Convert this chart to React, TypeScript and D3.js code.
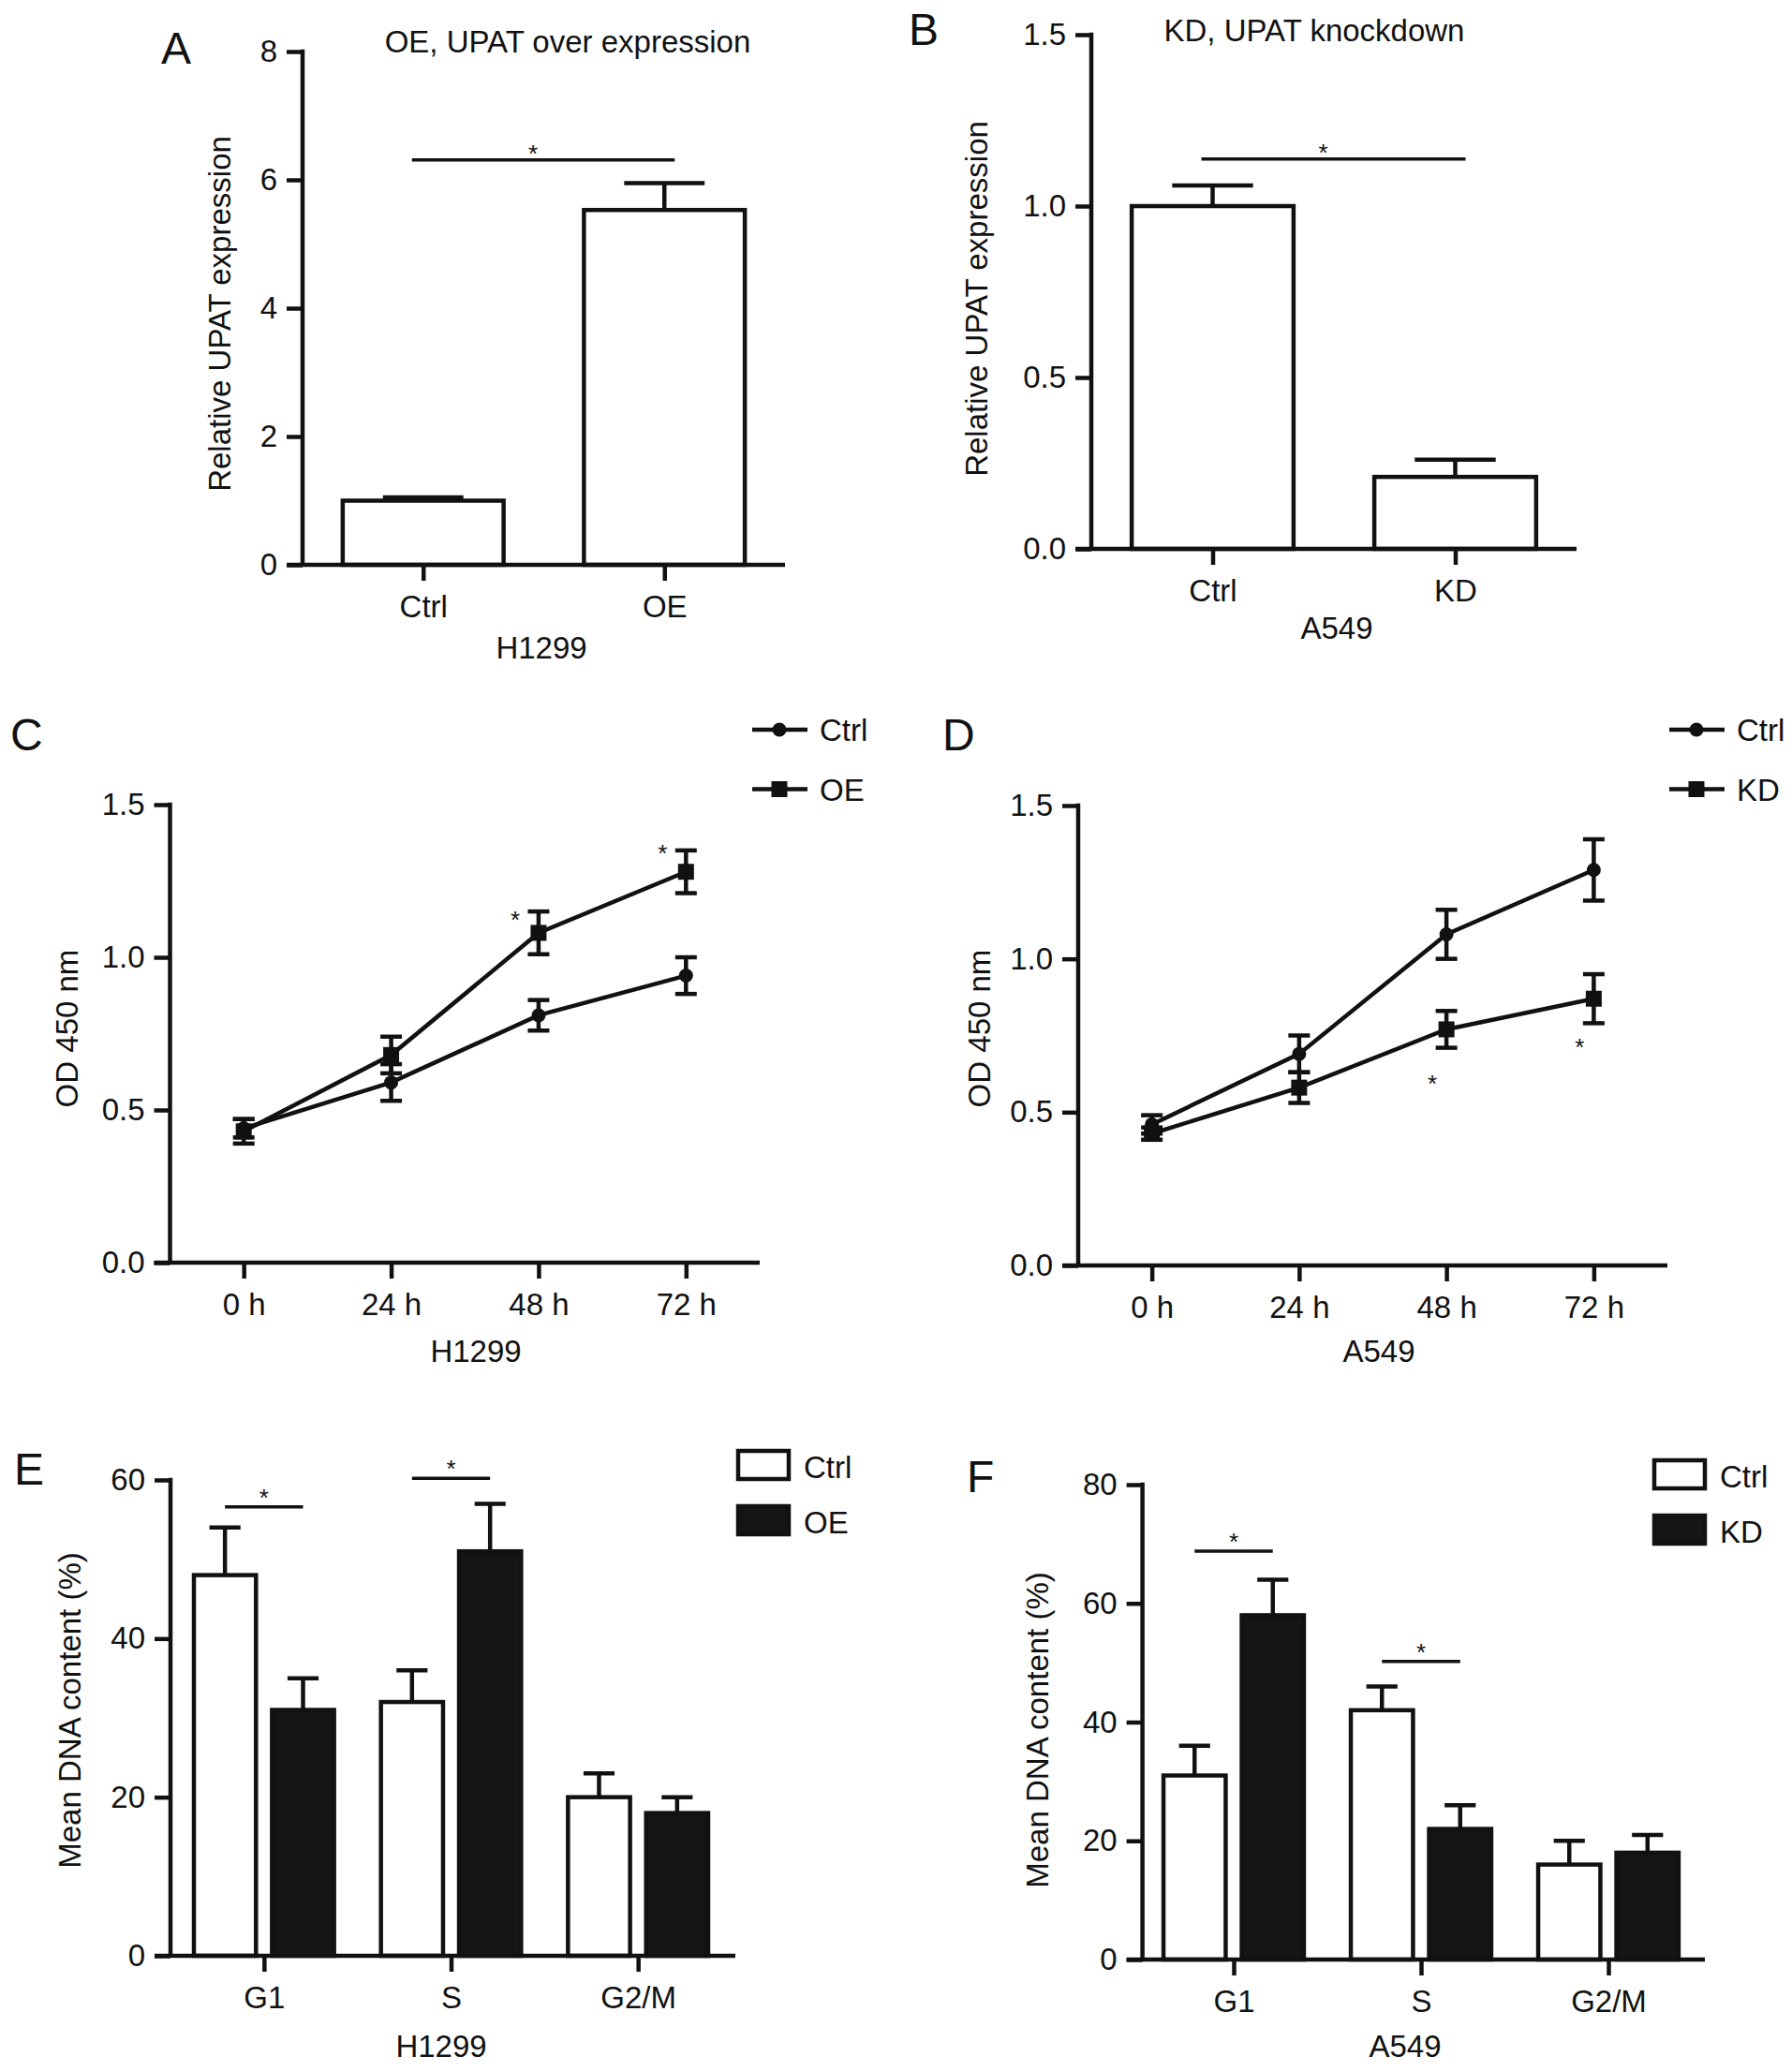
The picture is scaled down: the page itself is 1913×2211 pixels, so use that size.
import { useEffect, useRef } from "react";
import * as d3 from "d3";

const W = 1913;
const H = 2211;
const FONT = "'Liberation Sans', Arial, Helvetica, sans-serif";
const INK = "#111";
const DARK = "#151515";
const SW = 4.5;
const FS = 33;

// A: UPAT over expression (H1299)
const groupsA = ["Ctrl", "OE"];
const meanA = [1.0, 5.53];
const errA = [0.05, 0.42];
const ticksA = [0, 2, 4, 6, 8];

// B: UPAT knockdown (A549)
const groupsB = ["Ctrl", "KD"];
const meanB = [1.0, 0.21];
const errB = [0.06, 0.05];
const ticksB = [0, 0.5, 1.0, 1.5];

// C / D: CCK-8 growth curves
const times = ["0 h", "24 h", "48 h", "72 h"];
const odTicks = [0, 0.5, 1.0, 1.5];
const ctrlC = [0.44, 0.59, 0.81, 0.94];
const ctrlErrC = [0.03, 0.06, 0.05, 0.06];
const oeC = [0.43, 0.68, 1.08, 1.28];
const oeErrC = [0.04, 0.06, 0.07, 0.07];
const starC = [null, null, 1.14, 1.36];

const ctrlD = [0.46, 0.69, 1.08, 1.29];
const ctrlErrD = [0.03, 0.06, 0.08, 0.1];
const kdD = [0.43, 0.58, 0.77, 0.87];
const kdErrD = [0.02, 0.05, 0.06, 0.08];
const starD = [null, null, 0.61, 0.73];

// E / F: cell cycle
const phases = ["G1", "S", "G2/M"];
const ctrlE = [48, 32, 20];
const ctrlErrE = [6, 4, 3];
const oeE = [31, 51, 18];
const oeErrE = [4, 6, 2];
const sigE = [56.6, 60.2, null];
const ticksE = [0, 20, 40, 60];

const ctrlF = [31, 42, 16];
const ctrlErrF = [5, 4, 4];
const kdF = [58, 22, 18];
const kdErrF = [6, 4, 3];
const sigF = [68.8, 50.2, null];
const ticksF = [0, 20, 40, 60, 80];

const txt = (g, x, y, s, size = FS, anchor = "middle") =>
  g
    .append("text")
    .attr("x", x)
    .attr("y", y)
    .attr("text-anchor", anchor)
    .attr("font-family", FONT)
    .attr("font-size", size)
    .attr("fill", INK)
    .text(s);

const star = (g, x, cy) => txt(g, x, cy + 15, "*", 26);

const seg = (g, x1, y1, x2, y2, w = SW) =>
  g
    .append("line")
    .attr("x1", x1)
    .attr("y1", y1)
    .attr("x2", x2)
    .attr("y2", y2)
    .attr("stroke", INK)
    .attr("stroke-width", w);

// GraphPad-ish axes: left axis with ticks, bottom axis starting at tick end
function drawAxes(g, x, y, axisX, xEnd, ticks, fmt) {
  const y0 = y.range()[0];
  const yTop = y.range()[1];
  const ay = g
    .append("g")
    .attr("transform", `translate(${axisX},0)`)
    .call(
      d3
        .axisLeft(y)
        .tickValues(ticks)
        .tickFormat(fmt)
        .tickSize(17)
        .tickSizeOuter(0)
        .tickPadding(10)
    );
  const ax = g
    .append("g")
    .attr("transform", `translate(0,${y0})`)
    .call(d3.axisBottom(x).tickSize(17).tickSizeOuter(0).tickPadding(16));
  [ay, ax].forEach((a) => {
    a.select(".domain").remove();
    a.attr("font-family", FONT).attr("font-size", FS);
    a.selectAll("line").attr("stroke", INK).attr("stroke-width", SW);
    a.selectAll("text").attr("fill", INK);
  });
  seg(g, axisX, y0, axisX, yTop - 2.25);
  seg(g, axisX - 17, y0, xEnd, y0);
}

function yTitle(g, cx, cy, s) {
  g.append("text")
    .attr("transform", `translate(${cx},${cy}) rotate(-90)`)
    .attr("dy", "0.35em")
    .attr("text-anchor", "middle")
    .attr("font-family", FONT)
    .attr("font-size", FS)
    .attr("fill", INK)
    .text(s);
}

function barPanel(svg, p) {
  const g = svg.append("g");
  const y = d3.scaleLinear().domain([0, p.max]).range([p.y0, p.yTop]);
  const x = d3.scalePoint().domain(p.groups).range([p.axisX, p.xEnd]).padding(0.5);
  const bw = x.step() * 0.667;

  p.groups.forEach((c, i) => {
    const cx = x(c);
    const top = y(p.means[i]);
    const cap = y(p.means[i] + p.errs[i]);
    seg(g, cx, top, cx, cap);
    seg(g, cx - bw / 4, cap, cx + bw / 4, cap);
    g.append("rect")
      .attr("x", cx - bw / 2)
      .attr("y", top)
      .attr("width", bw)
      .attr("height", p.y0 - top)
      .attr("fill", "#fff")
      .attr("stroke", INK)
      .attr("stroke-width", SW);
  });
  drawAxes(g, x, y, p.axisX, p.xEnd, p.ticks, p.fmt);

  // significance bar
  const sx1 = x(p.groups[0]) - 12;
  const sx2 = x(p.groups[1]) + 11;
  seg(g, sx1, y(p.sig), sx2, y(p.sig), 3.5);
  star(g, (sx1 + sx2) / 2 - 11, y(p.sig) - 13);

  txt(g, p.title[0], p.title[1], p.title[2]);
  txt(g, p.cell[0], p.cell[1], p.cell[2]);
  yTitle(g, p.yLab[0], p.yLab[1], "Relative UPAT expression");
  txt(g, p.letter[0], p.letter[1], p.letter[2], 48, "start");
}

function marker(g, shape, cx, cy) {
  if (shape === "circle") {
    g.append("circle").attr("cx", cx).attr("cy", cy).attr("r", 7.5).attr("fill", INK);
  } else {
    g.append("rect")
      .attr("x", cx - 8.5)
      .attr("y", cy - 8.5)
      .attr("width", 17)
      .attr("height", 17)
      .attr("fill", INK);
  }
}

function linePanel(svg, p) {
  const g = svg.append("g");
  const y = d3.scaleLinear().domain([0, 1.5]).range([p.y0, p.yTop]);
  const x = d3.scalePoint().domain(times).range([p.axisX, p.xEnd]).padding(0.5);
  drawAxes(g, x, y, p.axisX, p.xEnd, odTicks, d3.format(".1f"));

  const line = d3
    .line()
    .x((d, i) => x(times[i]))
    .y((d) => y(d));
  const series = [
    { vals: p.ctrl, errs: p.ctrlErr, shape: "circle" },
    { vals: p.trt, errs: p.trtErr, shape: "square" },
  ];
  series.forEach((s) => {
    g.append("path")
      .datum(s.vals)
      .attr("d", line)
      .attr("fill", "none")
      .attr("stroke", INK)
      .attr("stroke-width", SW);
  });
  series.forEach((s) => {
    s.vals.forEach((v, i) => {
      const cx = x(times[i]);
      const hi = y(v + s.errs[i]);
      const lo = y(v - s.errs[i]);
      seg(g, cx, hi, cx, lo);
      seg(g, cx - 11.5, hi, cx + 11.5, hi);
      seg(g, cx - 11.5, lo, cx + 11.5, lo);
      marker(g, s.shape, cx, y(v));
    });
  });

  p.stars.forEach((v, i) => {
    if (v != null) star(g, x(times[i]) + p.starDx, y(v));
  });

  // legend
  const labels = ["Ctrl", p.trtName];
  labels.forEach((lab, i) => {
    const ly = p.legend[1] + i * 63.5;
    seg(g, p.legend[0], ly, p.legend[0] + 59, ly);
    marker(g, i === 0 ? "circle" : "square", p.legend[0] + 29, ly);
    txt(g, p.legend[0] + 72, ly + 12, lab, FS, "start");
  });

  txt(g, p.cell[0], p.cell[1], p.cell[2]);
  yTitle(g, p.yLab[0], p.yLab[1], "OD 450 nm");
  txt(g, p.letter[0], p.letter[1], p.letter[2], 48, "start");
}

function groupedPanel(svg, p) {
  const g = svg.append("g");
  const y = d3.scaleLinear().domain([0, p.max]).range([p.y0, p.yTop]);
  const x0 = d3.scaleBand().domain(phases).range(p.band).padding(0);
  const keys = ["Ctrl", p.trtName];
  const x1 = d3
    .scaleBand()
    .domain(keys)
    .range([0, x0.bandwidth()])
    .paddingInner(0.205)
    .paddingOuter(0.3);
  const bw = x1.bandwidth();
  const series = [
    { vals: p.ctrl, errs: p.ctrlErr, fill: "#fff" },
    { vals: p.trt, errs: p.trtErr, fill: DARK },
  ];

  phases.forEach((ph, i) => {
    series.forEach((s, k) => {
      const bx = x0(ph) + x1(keys[k]);
      const cx = bx + bw / 2;
      const top = y(s.vals[i]);
      const cap = y(s.vals[i] + s.errs[i]);
      seg(g, cx, top, cx, cap);
      seg(g, cx - bw / 4, cap, cx + bw / 4, cap);
      g.append("rect")
        .attr("x", bx)
        .attr("y", top)
        .attr("width", bw)
        .attr("height", p.y0 - top)
        .attr("fill", s.fill)
        .attr("stroke", INK)
        .attr("stroke-width", SW);
    });
  });

  const xAxisScale = d3
    .scalePoint()
    .domain(phases)
    .range([x0(phases[0]) + x0.bandwidth() / 2, x0(phases[2]) + x0.bandwidth() / 2]);
  drawAxes(g, xAxisScale, y, p.axisX, p.xEnd, p.ticks, d3.format("d"));

  p.sig.forEach((v, i) => {
    if (v == null) return;
    const a = x0(phases[i]) + x1(keys[0]) + bw / 2;
    const b = x0(phases[i]) + x1(keys[1]) + bw / 2;
    seg(g, a, y(v), b, y(v), 3.5);
    star(g, (a + b) / 2, y(v) - 16);
  });

  keys.forEach((k, i) => {
    const by = p.legend[1] + i * 59;
    g.append("rect")
      .attr("x", p.legend[0])
      .attr("y", by)
      .attr("width", 54)
      .attr("height", 30)
      .attr("fill", i === 0 ? "#fff" : DARK)
      .attr("stroke", INK)
      .attr("stroke-width", SW);
    txt(g, p.legend[0] + 70, by + 29, k, FS, "start");
  });

  txt(g, p.cell[0], p.cell[1], p.cell[2]);
  yTitle(g, p.yLab[0], p.yLab[1], "Mean DNA content (%)");
  txt(g, p.letter[0], p.letter[1], p.letter[2], 48, "start");
}

const App = () => {
  const svgRef = useRef(null);

  useEffect(() => {
    const svg = d3.select(svgRef.current);
    svg.selectAll("*").remove();

    barPanel(svg, {
      groups: groupsA, means: meanA, errs: errA, ticks: ticksA, fmt: d3.format("d"),
      max: 8, y0: 603, yTop: 55, axisX: 323, xEnd: 838, sig: 6.31,
      title: [606, 56, "OE, UPAT over expression"], cell: [578, 703, "H1299"],
      yLab: [234, 335], letter: [172, 68, "A"],
    });
    barPanel(svg, {
      groups: groupsB, means: meanB, errs: errB, ticks: ticksB, fmt: d3.format(".1f"),
      max: 1.5, y0: 586, yTop: 37, axisX: 1165, xEnd: 1683, sig: 1.137,
      title: [1403, 44, "KD, UPAT knockdown"], cell: [1427, 682, "A549"],
      yLab: [1042, 319], letter: [970, 48, "B"],
    });

    linePanel(svg, {
      ctrl: ctrlC, ctrlErr: ctrlErrC, trt: oeC, trtErr: oeErrC, trtName: "OE",
      stars: starC, starDx: -25, y0: 1348, yTop: 859, axisX: 181.5, xEnd: 811,
      legend: [803, 779], cell: [508, 1454, "H1299"], yLab: [71, 1098], letter: [11, 801, "C"],
    });
    linePanel(svg, {
      ctrl: ctrlD, ctrlErr: ctrlErrD, trt: kdD, trtErr: kdErrD, trtName: "KD",
      stars: starD, starDx: -15, y0: 1351, yTop: 860, axisX: 1151, xEnd: 1780,
      legend: [1782, 779], cell: [1472, 1454, "A549"], yLab: [1045, 1098], letter: [1006, 801, "D"],
    });

    groupedPanel(svg, {
      ctrl: ctrlE, ctrlErr: ctrlErrE, trt: oeE, trtErr: oeErrE, trtName: "OE", sig: sigE,
      ticks: ticksE, max: 60, y0: 2088, yTop: 1580, axisX: 182, xEnd: 785, band: [182, 781],
      legend: [788, 1549], cell: [471, 2196, "H1299"], yLab: [74, 1826], letter: [15, 1585, "E"],
    });
    groupedPanel(svg, {
      ctrl: ctrlF, ctrlErr: ctrlErrF, trt: kdF, trtErr: kdErrF, trtName: "KD", sig: sigF,
      ticks: ticksF, max: 80, y0: 2092, yTop: 1585, axisX: 1219.6, xEnd: 1820, band: [1217, 1817],
      legend: [1766, 1559], cell: [1500, 2196, "A549"], yLab: [1107, 1847], letter: [1032, 1593, "F"],
    });
  }, []);

  return (
    <svg
      ref={svgRef}
      width={W}
      height={H}
      viewBox={`0 0 ${W} ${H}`}
      style={{ position: "absolute", left: 0, top: 0, background: "#fff" }}
    ></svg>
  );
};

export default App;
